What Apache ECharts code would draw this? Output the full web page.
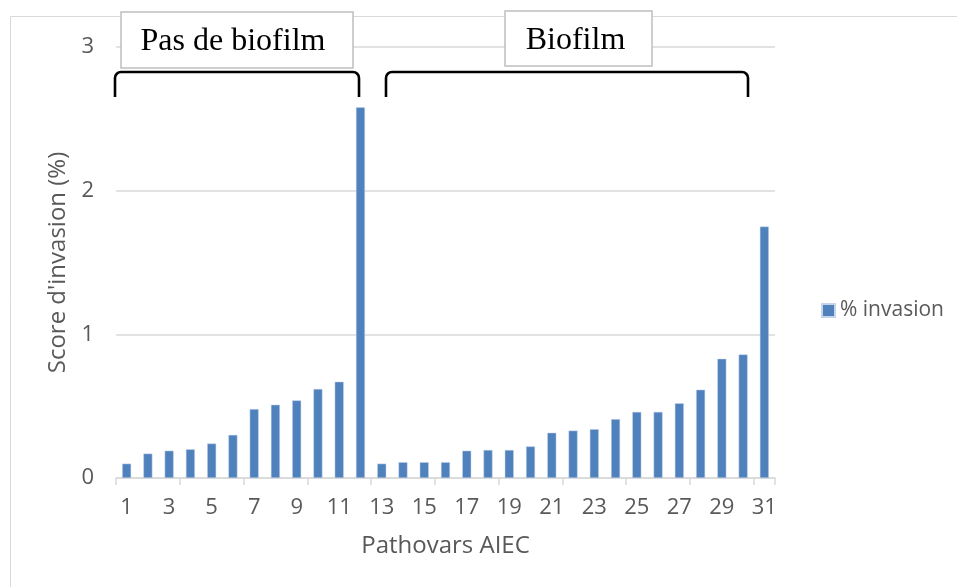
<!DOCTYPE html>
<html>
<head>
<meta charset="utf-8">
<script src="https://cdn.jsdelivr.net/npm/echarts@6/dist/echarts.min.js"></script>
<style>
html,body{margin:0;padding:0;background:#fff;}
#chart{width:957px;height:587px;}
</style>
</head>
<body>
<div id="chart"></div>
<script>
const categories = ['1','2','3','4','5','6','7','8','9','10','11','12','13','14','15','16','17','18','19','20','21','22','23','24','25','26','27','28','29','30','31'];
const invasion = [0.10,0.17,0.19,0.20,0.24,0.30,0.48,0.51,0.54,0.62,0.67,2.58,0.10,0.11,0.11,0.11,0.19,0.195,0.195,0.22,0.315,0.33,0.34,0.41,0.46,0.46,0.52,0.615,0.83,0.86,1.75];
const yTicks = [0,1,2,3];
const groupLabels = ['Pas de biofilm','Biofilm'];

const chart = echarts.init(document.getElementById('chart'));
const txt = '#595959';
const font = 'Open Sans';

function bracket(x1, x2, yTop, yBot, r) {
  const st = {stroke: '#000', lineWidth: 2.6, fill: 'none'};
  return {
    type: 'group', z: 50,
    children: [
      {type: 'line', shape: {x1: x1, y1: yBot, x2: x1, y2: yTop + r}, style: st},
      {type: 'arc', shape: {cx: x1 + r, cy: yTop + r, r: r, startAngle: Math.PI, endAngle: Math.PI * 1.5, clockwise: true}, style: st},
      {type: 'line', shape: {x1: x1 + r, y1: yTop, x2: x2 - r, y2: yTop}, style: st},
      {type: 'arc', shape: {cx: x2 - r, cy: yTop + r, r: r, startAngle: Math.PI * 1.5, endAngle: Math.PI * 2, clockwise: true}, style: st},
      {type: 'line', shape: {x1: x2, y1: yTop + r, x2: x2, y2: yBot}, style: st}
    ]
  };
}

chart.setOption({
  animation: false,
  backgroundColor: '#fff',
  grid: {left: 116, right: 182, top: 47, bottom: 109, containLabel: false},
  legend: {
    data: ['% invasion'],
    orient: 'vertical',
    left: 816, top: 295,
    itemWidth: 13, itemHeight: 13, itemGap: 6,
    icon: 'rect',
    textStyle: {color: txt, fontSize: 21, fontFamily: font}
  },
  xAxis: {
    type: 'category',
    data: categories,
    name: 'Pathovars AIEC',
    nameLocation: 'middle',
    nameGap: 56,
    nameTextStyle: {color: txt, fontSize: 24, fontFamily: font},
    axisLine: {lineStyle: {color: '#d9d9d9', width: 1.5}},
    axisTick: {show: true, interval: 2, length: 7, lineStyle: {color: '#d9d9d9', width: 1.5}},
    axisLabel: {interval: 1, color: txt, fontSize: 22, fontFamily: font, margin: 19}
  },
  yAxis: {
    type: 'value',
    min: 0, max: 3, interval: 1,
    name: "Score d'invasion (%)",
    nameLocation: 'middle',
    nameGap: 46,
    nameTextStyle: {color: txt, fontSize: 24, fontFamily: font},
    axisLine: {show: false},
    axisTick: {show: false},
    axisLabel: {color: txt, fontSize: 22, fontFamily: font, margin: 22,
      formatter: v => yTicks.includes(v) ? String(v) : ''},
    splitLine: {lineStyle: {color: '#d9d9d9', width: 1.5}}
  },
  series: [{
    name: '% invasion',
    type: 'bar',
    data: invasion,
    barWidth: 9,
    itemStyle: {color: '#4f81bd', borderColor: '#c6d4ea', borderWidth: 0.5}
  }],
  graphic: [
    {type: 'rect', silent: true, z: -1, shape: {x: 10.5, y: 16.5, width: 1200, height: 1000},
      style: {fill: 'none', stroke: '#d9d9d9', lineWidth: 1}},
    bracket(115, 359, 72, 97, 6),
    bracket(386, 748, 72, 97, 6),
    {type: 'rect', z: 50, shape: {x: 121, y: 12, width: 232, height: 56},
      style: {fill: '#fff', stroke: '#bfbfbf', lineWidth: 1.5}},
    {type: 'text', z: 51, x: 233, y: 42,
      style: {text: groupLabels[0], fill: '#000', font: '32px "Liberation Serif"', textAlign: 'center', textVerticalAlign: 'middle'}},
    {type: 'rect', z: 50, shape: {x: 505, y: 11, width: 147, height: 55},
      style: {fill: '#fff', stroke: '#bfbfbf', lineWidth: 1.5}},
    {type: 'text', z: 51, x: 575.5, y: 40.5,
      style: {text: groupLabels[1], fill: '#000', font: '32px "Liberation Serif"', textAlign: 'center', textVerticalAlign: 'middle'}}
  ]
});
</script>
</body>
</html>
